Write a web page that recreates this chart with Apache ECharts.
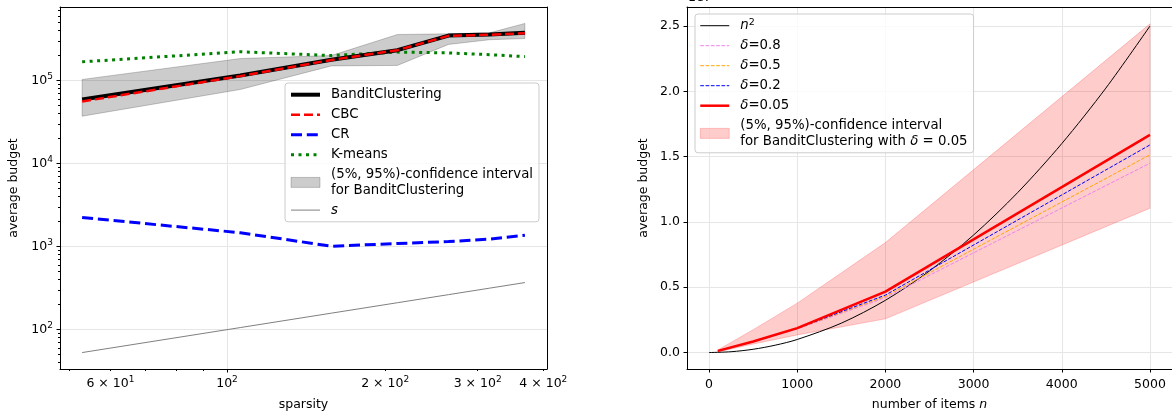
<!DOCTYPE html>
<html>
<head>
<meta charset="utf-8">
<script src="https://cdn.jsdelivr.net/npm/echarts@6.0.0/dist/echarts.min.js"></script>
<style>
  html, body { margin: 0; padding: 0; background: #fff; }
  #chart { width: 1172px; height: 417px; }
</style>
</head>
<body>
<div id="chart"></div>
<script>
// ---- left panel: average budget vs sparsity (log-log) ----
const sparsity = [53, 106, 158, 211, 264, 316, 369];
const banditClustering = [59000, 115000, 178000, 232000, 348000, 358000, 376000];
const cbc = [56000, 113000, 177000, 232000, 345000, 355000, 372000];
const cr = [2240, 1470, 1010, 1090, 1150, 1230, 1370];
const kmeans = [168000, 222000, 200000, 220000, 215000, 205000, 194000];
const ciLow = [37200, 78000, 150000, 152000, 272000, 310000, 320000];
const ciHigh = [103000, 184000, 200000, 358000, 365000, 375000, 487000];
const sLine = [53, 106, 158, 211, 264, 316, 369];
const leftXTicks = [60, 100, 200, 300, 400];
const leftXGrid = [100];
const leftXMinor = [50, 60, 70, 80, 90, 200, 300, 400];
const leftYTicks = [100, 1000, 10000, 100000];

// ---- right panel: average budget vs number of items ----
const nItems = [100, 500, 1000, 2000, 5000];
const delta005 = [130000, 850000, 1870000, 4670000, 16670000];
const delta02 = [120000, 840000, 1850000, 4400000, 15900000];
const delta05 = [120000, 830000, 1830000, 4300000, 15140000];
const delta08 = [120000, 820000, 1800000, 4200000, 14500000];
const ci2Low = [50000, 650000, 1350000, 2580000, 11050000];
const ci2High = [200000, 1750000, 3780000, 8420000, 25170000];
const nSqX = [0, 250, 500, 750, 1000, 1500, 2000, 2500, 3000, 3500, 4000, 4500, 5000];
const nSqY = [0, 62500, 250000, 562500, 1000000, 2250000, 4000000, 6250000, 9000000, 12250000, 16000000, 20250000, 25000000];
const rightXTicks = [0, 1000, 2000, 3000, 4000, 5000];
const rightYTicks = [0, 5000000, 10000000, 15000000, 20000000, 25000000];

const FONT = 'DejaVu Sans';
const lg = Math.log10;
const rich = {
  sup: { fontSize: 9, verticalAlign: 'top', lineHeight: 10, fontFamily: FONT, color: '#000' },
  it: { fontStyle: 'italic', fontFamily: FONT, color: '#000' }
};
const tickText = { fontSize: 12.5, fontFamily: FONT, color: '#000', lineHeight: 17, rich: rich };
const nameText = { fontSize: 12.5, fontFamily: FONT, color: '#000', rich: rich };
const gridColor = '#e6e6e6';

function powLabel(v) {
  const val = Math.round(Math.pow(10, v));
  const exp = Math.floor(lg(val) + 1e-9);
  const mant = Math.round(val / Math.pow(10, exp));
  return (mant === 1 ? '' : mant + ' \u00d7 ') + '10{sup|' + exp + '}';
}

function minorDecades(lo, hi) {
  const out = [];
  for (let k = 0; k < 7; k++) {
    for (let m = 2; m < 10; m++) {
      const v = m * Math.pow(10, k);
      if (v >= lo && v <= hi) out.push(lg(v));
    }
  }
  return out;
}

function bandSeries(name, xs, lo, hi, color, xi, yi, logScale) {
  const tx = logScale ? lg : (v => v);
  return {
    type: 'custom', name: name, xAxisIndex: xi, yAxisIndex: yi,
    itemStyle: { color: color },
    data: xs.map((x, i) => [tx(x), tx(lo[i]), tx(hi[i])]),
    encode: { x: 0, y: [1, 2] },
    renderItem: function (params, api) {
      if (params.dataIndex !== 0) return null;
      const pts = [];
      for (let i = 0; i < xs.length; i++) pts.push(api.coord([tx(xs[i]), tx(hi[i])]));
      for (let i = xs.length - 1; i >= 0; i--) pts.push(api.coord([tx(xs[i]), tx(lo[i])]));
      return { type: 'polygon', shape: { points: pts }, style: { fill: color, stroke: color, lineWidth: 1 } };
    }
  };
}

function lineSeries(name, xs, ys, color, width, dash, xi, yi, logScale, extra) {
  const tx = logScale ? lg : (v => v);
  return Object.assign({
    type: 'line', name: name, xAxisIndex: xi, yAxisIndex: yi,
    data: xs.map((x, i) => [tx(x), tx(ys[i])]),
    symbol: 'none', animation: false,
    lineStyle: { color: color, width: width, type: dash },
    itemStyle: { color: color }
  }, extra || {});
}

const legendLabels = {
  'BanditClustering': 'BanditClustering',
  'CBC': 'CBC',
  'CR': 'CR',
  'K-means': 'K-means',
  'ci-left': '(5%, 95%)-confidence interval\nfor BanditClustering',
  's': '{it|s}',
  'n2': '{it|n}{sup|2}',
  'd08': '{it|\u03b4}=0.8',
  'd05': '{it|\u03b4}=0.5',
  'd02': '{it|\u03b4}=0.2',
  'd005': '{it|\u03b4}=0.05',
  'ci-right': '(5%, 95%)-confidence interval\nfor BanditClustering with {it|\u03b4} = 0.05'
};

const legendBase = {
  orient: 'vertical', itemWidth: 29, itemHeight: 10, itemGap: 4.6,
  padding: [4, 6, 4, 4], backgroundColor: 'rgba(255,255,255,0.8)',
  borderColor: '#cccccc', borderWidth: 1, borderRadius: 3,
  selectedMode: false,
  itemStyle: { opacity: 0 },
  textStyle: {
    fontSize: 13.3, fontFamily: FONT, color: '#000', lineHeight: 15.4, padding: [0, 0, 0, 6],
    rich: {
      sup: { fontSize: 9.5, verticalAlign: 'top', lineHeight: 11, fontFamily: FONT, color: '#000' },
      it: { fontStyle: 'italic', fontSize: 13.3, fontFamily: FONT, color: '#000' }
    }
  },
  formatter: name => legendLabels[name]
};

function lineItem(name, width, dash) {
  return { name: name, lineStyle: { width: width, type: dash } };
}
function patchItem(name, color) {
  return { name: name, icon: 'rect', itemStyle: { color: color, borderColor: color, borderWidth: 1, opacity: 1 } };
}

const LX = [lg(48.1), lg(406.5)];
const LY = [lg(33.6), lg(768000)];

const chart = echarts.init(document.getElementById('chart'), null, { renderer: 'canvas' });
chart.setOption({
  animation: false,
  backgroundColor: '#fff',
  grid: [
    { left: 60, top: 7, width: 487, height: 362 },
    { left: 687, top: 7, width: 486, height: 362 }
  ],
  graphic: [
    { type: 'text', left: 688, top: -9, style: { text: '1e7', font: '12.5px "DejaVu Sans"', fill: '#000' } }
  ],
  legend: [
    Object.assign({}, legendBase, {
      left: 285, top: 83,
      data: [
        lineItem('BanditClustering', 4, 'solid'),
        lineItem('CBC', 2.5, [9, 4]),
        lineItem('CR', 3, [11, 4.8]),
        lineItem('K-means', 3, [3, 4.5]),
        patchItem('ci-left', 'rgba(0,0,0,0.2)'),
        lineItem('s', 1, 'solid')
      ]
    }),
    Object.assign({}, legendBase, {
      left: 695, top: 14,
      data: [
        lineItem('n2', 1, 'solid'),
        lineItem('d08', 1, [3.7, 1.6]),
        lineItem('d05', 1, [3.7, 1.6]),
        lineItem('d02', 1, [3.7, 1.6]),
        lineItem('d005', 2.5, 'solid'),
        patchItem('ci-right', 'rgba(255,0,0,0.2)')
      ]
    })
  ],
  xAxis: [
    {
      gridIndex: 0, type: 'value', position: 'bottom', min: LX[0], max: LX[1],
      name: 'sparsity', nameLocation: 'middle', nameGap: 29, nameTextStyle: nameText,
      axisLine: { onZero: false, lineStyle: { color: '#000', width: 1 } },
      axisTick: { customValues: leftXGrid.map(lg), length: 3.5, lineStyle: { color: '#000' } },
      axisLabel: Object.assign({ customValues: leftXTicks.map(lg), formatter: powLabel, margin: 6 }, tickText),
      splitLine: { show: true, lineStyle: { color: gridColor, width: 1 } }
    },
    {
      gridIndex: 0, type: 'value', position: 'bottom', min: LX[0], max: LX[1],
      axisLine: { show: false, onZero: false },
      axisTick: { customValues: leftXMinor.map(lg), length: 2, lineStyle: { color: '#000' } },
      axisLabel: { show: false }, splitLine: { show: false }
    },
    {
      gridIndex: 1, type: 'value', position: 'bottom', min: -250, max: 5250,
      name: 'number of items {it|n}', nameLocation: 'middle', nameGap: 27, nameTextStyle: nameText,
      axisLine: { onZero: false, lineStyle: { color: '#000', width: 1 } },
      axisTick: { customValues: rightXTicks, length: 3.5, lineStyle: { color: '#000' } },
      axisLabel: Object.assign({ customValues: rightXTicks, formatter: v => String(v), margin: 7 }, tickText),
      splitLine: { show: true, lineStyle: { color: gridColor, width: 1 } }
    },
    {
      gridIndex: 0, type: 'value', position: 'top', min: 0, max: 1,
      axisLine: { show: true, onZero: false, lineStyle: { color: '#000', width: 1 } },
      axisTick: { show: false }, axisLabel: { show: false }, splitLine: { show: false }
    },
    {
      gridIndex: 1, type: 'value', position: 'top', min: 0, max: 1,
      axisLine: { show: true, onZero: false, lineStyle: { color: '#000', width: 1 } },
      axisTick: { show: false }, axisLabel: { show: false }, splitLine: { show: false }
    }
  ],
  yAxis: [
    {
      gridIndex: 0, type: 'value', position: 'left', min: LY[0], max: LY[1],
      name: 'average budget', nameLocation: 'middle', nameGap: 40, nameTextStyle: nameText,
      axisLine: { onZero: false, lineStyle: { color: '#000', width: 1 } },
      axisTick: { customValues: leftYTicks.map(lg), length: 3.5, lineStyle: { color: '#000' } },
      axisLabel: Object.assign({ customValues: leftYTicks.map(lg), formatter: powLabel, margin: 7 }, tickText),
      splitLine: { show: true, lineStyle: { color: gridColor, width: 1 } }
    },
    {
      gridIndex: 0, type: 'value', position: 'left', min: LY[0], max: LY[1],
      axisLine: { show: false, onZero: false },
      axisTick: { customValues: minorDecades(33.6, 768000), length: 2, lineStyle: { color: '#000' } },
      axisLabel: { show: false }, splitLine: { show: false }
    },
    {
      gridIndex: 1, type: 'value', position: 'left', min: -1260000, max: 26460000,
      name: 'average budget', nameLocation: 'middle', nameGap: 37, nameTextStyle: nameText,
      axisLine: { onZero: false, lineStyle: { color: '#000', width: 1 } },
      axisTick: { customValues: rightYTicks, length: 3.5, lineStyle: { color: '#000' } },
      axisLabel: Object.assign({ customValues: rightYTicks, formatter: v => (v / 1e7).toFixed(1), margin: 7 }, tickText),
      splitLine: { show: true, lineStyle: { color: gridColor, width: 1 } }
    },
    {
      gridIndex: 0, type: 'value', position: 'right', min: 0, max: 1,
      axisLine: { show: true, onZero: false, lineStyle: { color: '#000', width: 1 } },
      axisTick: { show: false }, axisLabel: { show: false }, splitLine: { show: false }
    },
    {
      gridIndex: 1, type: 'value', position: 'right', min: 0, max: 1,
      axisLine: { show: true, onZero: false, lineStyle: { color: '#000', width: 1 } },
      axisTick: { show: false }, axisLabel: { show: false }, splitLine: { show: false }
    }
  ],
  series: [
    bandSeries('ci-left', sparsity, ciLow, ciHigh, 'rgba(0,0,0,0.2)', 0, 0, true),
    lineSeries('s', sparsity, sLine, '#808080', 1, 'solid', 0, 0, true),
    lineSeries('K-means', sparsity, kmeans, '#008000', 3, [3, 4.5], 0, 0, true),
    lineSeries('CR', sparsity, cr, '#0000ff', 3, [11, 4.8], 0, 0, true),
    lineSeries('BanditClustering', sparsity, banditClustering, '#000000', 4, 'solid', 0, 0, true),
    lineSeries('CBC', sparsity, cbc, '#ff0000', 2.5, [9, 4], 0, 0, true),

    bandSeries('ci-right', nItems, ci2Low, ci2High, 'rgba(255,0,0,0.2)', 2, 2, false),
    lineSeries('n2', nSqX, nSqY, '#000000', 1, 'solid', 2, 2, false, { smooth: 0.3 }),
    lineSeries('d08', nItems, delta08, '#ee82ee', 1, [3.7, 1.6], 2, 2, false),
    lineSeries('d05', nItems, delta05, '#ffa500', 1, [3.7, 1.6], 2, 2, false),
    lineSeries('d02', nItems, delta02, '#0000ff', 1, [3.7, 1.6], 2, 2, false),
    lineSeries('d005', nItems, delta005, '#ff0000', 2.5, 'solid', 2, 2, false)
  ]
});
</script>
</body>
</html>
